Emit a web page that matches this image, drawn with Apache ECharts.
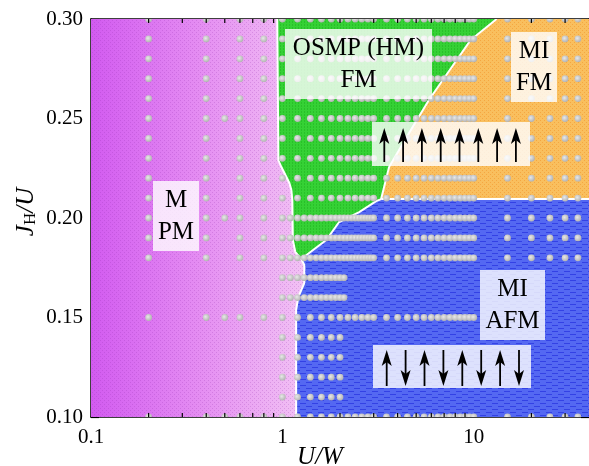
<!DOCTYPE html>
<html><head><meta charset="utf-8">
<script src="https://cdn.jsdelivr.net/npm/echarts@6/dist/echarts.min.js"></script>
<style>html,body{margin:0;padding:0;background:#fff}#c{width:589px;height:466px}</style>
</head><body><div id="c"></div>
<script>
// ---- axes ----
const xRange = [0.1, 40];
const yRange = [0.10, 0.30];
const xTickValues = [0.1, 1, 10];
const xTickLabels = ['0.1', '1', '10'];
const xMinorTicks = [0.2,0.3,0.4,0.5,0.6,0.7,0.8,0.9,2,3,4,5,6,7,8,9,20,30];
const yTickLabels = ['0.10','0.15','0.20','0.25','0.30'];

// ---- phase boundaries (U/W, J_H/U) ----
const pmBoundary = [[0.94,0.30],[0.953,0.229],[0.988,0.2256],[1.037,0.2216],[1.087,0.2176],[1.114,0.2141],[1.127,0.209],[1.134,0.1889],[1.169,0.1829],[1.256,0.1794],[1.302,0.1764],[1.302,0.1673],[1.211,0.1603],[1.18,0.1538],[1.18,0.10]];
const greenBlueBoundary = [[1.256,0.1794],[1.38,0.1824],[1.695,0.1889],[1.98,0.198],[2.52,0.203],[3.09,0.2085],[3.28,0.2095]];
const greenOrangeBoundary = [[3.28,0.2095],[3.61,0.2256],[4.59,0.2427],[5.83,0.2593],[7.68,0.2759],[9.62,0.2894],[13.17,0.30]];
const orangeBlueJ = 0.2095;

// ---- calculated points (gray dots) ----
const uPM = [0.2, 0.4, 0.6, 0.8];
const uHalf = [0.5];
const uCoarse = [1.0,1.2,1.4,1.6,1.8,2.0,2.2,2.4,2.6,2.8,3.0];
const uFine = [1.0,1.1,1.2,1.3,1.4,1.5,1.6,1.7,1.8,1.9,2.0,2.1,2.2,2.3,2.4,2.5,2.6,2.7,2.8,2.9,3.0];
const uShort = [1.0,1.1,1.2,1.3,1.4,1.5,1.6,1.7,1.8,1.9,2.0,2.1];
const uSparse = [1.0,1.2,1.4,1.6,1.8,2.0];
const uMid = [3.5,4.0,4.5,5.0,5.5,6.0,6.5,7.0,7.5,8.0,8.5,9.0,9.5,10.0];
const uFar = [15, 20, 25, 30, 35];
const dotRows = [
  [0.30, [uPM, uCoarse, uMid, uFar]],
  [0.29, [uPM, uCoarse, uMid, uFar]],
  [0.28, [uPM, uCoarse, uMid, uFar]],
  [0.27, [uPM, uCoarse, uMid, uFar]],
  [0.26, [uPM, uCoarse, uMid, uFar]],
  [0.25, [uPM, uHalf, uCoarse, uMid, uFar]],
  [0.24, [uPM, uCoarse, uMid, uFar]],
  [0.23, [uPM, uCoarse, uMid, uFar]],
  [0.22, [uPM, uCoarse, uMid, uFar]],
  [0.21, [uPM, uCoarse, uMid, uFar]],
  [0.20, [uPM, uHalf, uFine, uMid, uFar]],
  [0.19, [uPM, uFine, uMid, uFar]],
  [0.18, [uPM, uFine, uMid, uFar]],
  [0.17, [uShort]],
  [0.16, [uShort]],
  [0.15, [uPM, uHalf, uCoarse, uMid]],
  [0.14, [uSparse]],
  [0.13, [uSparse]],
  [0.12, [uSparse]],
  [0.11, [uSparse]],
  [0.10, [uPM, uHalf, uCoarse, uMid, uFar]]
];
const fmSpins = [1,1,1,1,1,1,1,1];
const afmSpins = [1,-1,1,-1,1,-1,1,-1];

const dots = [];
dotRows.forEach(([j, sets]) => sets.forEach(s => s.forEach(u => dots.push([u, j]))));

function tile(w, h, draw) {
  const c = document.createElement('canvas'); c.width = w; c.height = h;
  draw(c.getContext('2d')); return { image: c, repeat: 'repeat' };
}
const texPurple = tile(4, 4, g => { g.fillStyle = 'rgba(140,40,170,0.22)'; g.fillRect(0,0,1,1); g.fillRect(2,2,1,1); });
const texGreen = tile(3, 3, g => { g.fillStyle = 'rgba(0,130,0,0.22)'; g.fillRect(1,0,1,1); g.fillRect(1,1,1,1); });
const texOrange = tile(4, 4, g => { g.fillStyle = 'rgba(240,130,20,0.4)'; g.fillRect(0,0,1,1); g.fillRect(2,2,1,1); });
const texBlue = tile(12, 6, g => { g.fillStyle = 'rgba(30,40,220,0.6)'; g.fillRect(0,1,6,1); g.fillRect(6,4,6,1); });

const regions = [
  { pts: [...pmBoundary, [xRange[1], 0.10], [xRange[1], 0.30]], fill: '#5468f2', tex: texBlue },
  { pts: [...greenOrangeBoundary, [xRange[1], 0.30], [xRange[1], orangeBlueJ]], fill: '#f9bf5e', tex: texOrange },
  { pts: [...pmBoundary.slice(0, 10), ...greenBlueBoundary.slice(1), ...greenOrangeBoundary.slice(1)], fill: '#35d135', tex: texGreen },
  { pts: [[xRange[0], 0.30], ...pmBoundary, [xRange[0], 0.10]],
    fill: new echarts.graphic.LinearGradient(0, 0, 1, 0, [{offset:0,color:'#d25bf0'},{offset:0.5,color:'#e48cf2'},{offset:1,color:'#f2c2f4'}]), tex: texPurple }
];
const lines = [pmBoundary, greenBlueBoundary, greenOrangeBoundary, [[3.28, orangeBlueJ], [xRange[1], orangeBlueJ]]];

const chart = echarts.init(document.getElementById('c'), null, { renderer: 'canvas' });
const serif = '"Liberation Serif", "Times New Roman", "DejaVu Serif", serif';
const axisCommon = {
  axisLine: { show: true, lineStyle: { color: '#000', width: 1.5 } },
  splitLine: { show: false }
};
function xLab(v) {
  for (let i = 0; i < xTickValues.length; i++) if (Math.abs(v - xTickValues[i]) / xTickValues[i] < 1e-6) return xTickLabels[i];
  return '';
}

const graphics = [];
function box(x, y, w, h) { graphics.push({ type: 'rect', z: 100, shape: { x, y, width: w, height: h }, style: { fill: 'rgba(255,255,255,0.8)' } }); }
function label(cx, cy, text) { graphics.push({ type: 'text', z: 101, x: cx, y: cy, style: { text, fill: '#000', fontSize: 25, fontFamily: serif, lineHeight: 32, align: 'center', verticalAlign: 'middle' } }); }
function arrows(x0, step, top, bottom, spins) {
  spins.forEach((s, i) => {
    const cx = x0 + i * step;
    const tip = s > 0 ? top : bottom, tail = s > 0 ? bottom : top, d = s > 0 ? 1 : -1;
    graphics.push({ type: 'line', z: 101, shape: { x1: cx, y1: tip + d * 10, x2: cx, y2: tail }, style: { stroke: '#000', lineWidth: 1.8 } });
    graphics.push({ type: 'polygon', z: 101, shape: { points: [[cx, tip], [cx - 5, tip + d * 16], [cx, tip + d * 12], [cx + 5, tip + d * 16]] }, style: { fill: '#000' } });
  });
}
box(153, 181, 46, 70); label(176, 216, 'M\nPM');
box(285, 29, 147, 70); label(358.5, 64, 'OSMP (HM)\nFM');
box(511, 32, 46, 70); label(534, 67, 'MI\nFM');
box(480, 270, 65, 70); label(512.5, 305, 'MI\nAFM');
box(372, 122, 158, 44); arrows(384.3, 18.8, 128, 162, fmSpins);
box(373, 345, 158, 43); arrows(386.7, 18.9, 350, 386, afmSpins);
graphics.push({ type: 'text', z: 101, x: 320, y: 457, style: { text: 'U/W', fill: '#000', fontSize: 25, fontStyle: 'italic', fontFamily: serif, align: 'center', verticalAlign: 'middle' } });
graphics.push({ type: 'text', z: 101, x: 24, y: 212, rotation: Math.PI / 2,
  style: { text: '{a|J}{b|H}{a|/U}', fill: '#000', align: 'center', verticalAlign: 'middle',
    rich: { a: { fontSize: 25, fontStyle: 'italic', fontFamily: serif, fill: '#000', verticalAlign: 'bottom', lineHeight: 30 },
            b: { fontSize: 17, fontFamily: serif, fill: '#000', verticalAlign: 'bottom', lineHeight: 20 } } } });

const option = {
  animation: false,
  grid: { left: 91, top: 19, right: -2, bottom: 49 },
  xAxis: [
    Object.assign({ type: 'log', logBase: 10, min: xRange[0], max: xRange[1], position: 'bottom',
      axisTick: { show: true, inside: true, length: 8, lineStyle: { color: '#000', width: 1.2 } },
      axisLabel: { show: true, fontFamily: serif, fontSize: 21, color: '#000', margin: 10, formatter: xLab, showMaxLabel: false } }, axisCommon),
    Object.assign({ type: 'log', logBase: 10, min: xRange[0], max: xRange[1], position: 'top',
      axisTick: { show: true, inside: true, length: 8, lineStyle: { color: '#000', width: 1.2 } },
      axisLabel: { show: false } }, axisCommon)
  ],
  yAxis: [
    Object.assign({ type: 'value', min: yRange[0], max: yRange[1], interval: 0.05, position: 'left',
      axisTick: { show: true, inside: true, length: 8, lineStyle: { color: '#000', width: 1.2 } },
      minorTick: { show: true, splitNumber: 2, length: 4, lineStyle: { color: '#000', width: 1.2 } },
      axisLabel: { fontFamily: serif, fontSize: 21, color: '#000', margin: 8, formatter: v => v.toFixed(2) } }, axisCommon),
    Object.assign({ type: 'value', min: yRange[0], max: yRange[1], interval: 0.05, position: 'right',
      axisTick: { show: true, inside: true, length: 8, lineStyle: { color: '#000', width: 1.2 } },
      minorTick: { show: true, splitNumber: 2, length: 4, lineStyle: { color: '#000', width: 1.2 } },
      axisLabel: { show: false } }, axisCommon)
  ],
  series: [
    { type: 'custom', z: 1, clip: true, data: regions.map((r, i) => i), silent: true,
      renderItem: (p, api) => {
        const r = regions[p.dataIndex];
        const pts = r.pts.map(q => api.coord(q));
        return { type: 'group', children: [
          { type: 'polygon', shape: { points: pts }, style: { fill: r.fill } },
          { type: 'polygon', shape: { points: pts }, style: { fill: r.tex } }
        ] };
      } },
    { type: 'custom', z: 2, clip: true, data: lines.map((l, i) => i), silent: true,
      renderItem: (p, api) => ({ type: 'polyline', shape: { points: lines[p.dataIndex].map(q => api.coord(q)) }, style: { stroke: '#fff', lineWidth: 2, fill: null } }) },
    { type: 'custom', z: 3, clip: true, data: dots, silent: true,
      renderItem: (p, api) => {
        const c = api.coord([api.value(0), api.value(1)]);
        return { type: 'circle', shape: { cx: c[0], cy: c[1], r: 3.4 },
          style: { fill: new echarts.graphic.RadialGradient(0.4, 0.4, 0.6, [{offset:0,color:'#e8e8e8'},{offset:1,color:'#b4b4b4'}]) } };
      } },
    { type: 'custom', z: 5, clip: false, data: xMinorTicks, silent: true,
      renderItem: (p, api) => {
        const b = api.coord([api.value(0), yRange[0]]), t = api.coord([api.value(0), yRange[1]]);
        return { type: 'group', children: [
          { type: 'line', shape: { x1: b[0], y1: b[1], x2: b[0], y2: b[1] - 4 }, style: { stroke: '#000', lineWidth: 1.2 } },
          { type: 'line', shape: { x1: t[0], y1: t[1], x2: t[0], y2: t[1] + 4 }, style: { stroke: '#000', lineWidth: 1.2 } }
        ] };
      } }
  ],
  graphic: graphics
};
chart.setOption(option);
</script></body></html>
